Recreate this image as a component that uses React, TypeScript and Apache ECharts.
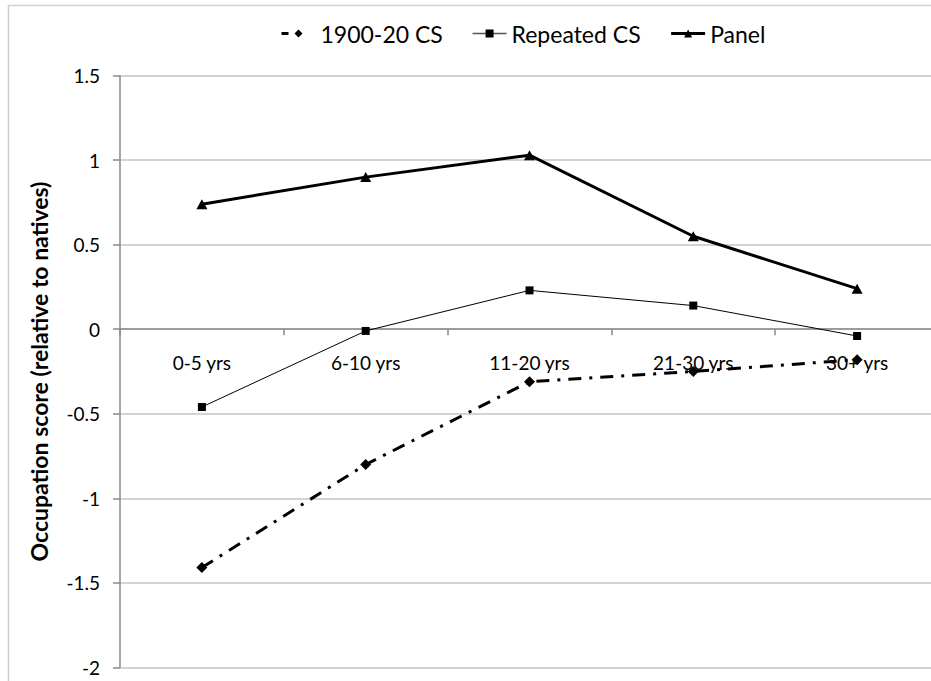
import React, { useEffect, useRef } from "react";
import * as echarts from "echarts";

const categories = ["0-5 yrs", "6-10 yrs", "11-20 yrs", "21-30 yrs", "30+ yrs"];
const cs1900 = [-1.41, -0.8, -0.31, -0.25, -0.18];
const repeatedCS = [-0.46, -0.01, 0.23, 0.14, -0.04];
const panel = [0.74, 0.9, 1.03, 0.55, 0.24];
const seriesNames = ["1900-20 CS", "Repeated CS", "Panel"];
const yTitle = "Occupation score (relative to natives)";
const Y_MIN = -2;
const Y_MAX = 1.5;

const FONT = "Lato, 'Open Sans', sans-serif";

export default function App() {
  const ref = useRef<HTMLDivElement>(null);
  useEffect(() => {
    if (!ref.current) return;
    const chart = echarts.init(ref.current, undefined, { renderer: "svg" });
    const gridTop = 75.7;
    const gridBottom = 13.7;
    const gridH = 681 - gridTop - gridBottom;
    // place the category axis where the value axis crosses 0
    const zeroOffset = -((0 - Y_MIN) / (Y_MAX - Y_MIN)) * gridH;
    chart.setOption({
      animation: false,
      backgroundColor: "#ffffff",
      graphic: [
        {
          type: "rect",
          silent: true,
          z: -10,
          shape: { x: 8.5, y: 5.5, width: 960, height: 720 },
          style: { fill: "none", stroke: "#d0d0d0", lineWidth: 1.5 },
        },
      ],
      legend: {
        left: 275,
        top: 17,
        itemWidth: 34,
        itemHeight: 10,
        itemGap: 29,
        data: [
          { name: seriesNames[0], lineStyle: { type: [7, 40], width: 3 } },
          { name: seriesNames[1], lineStyle: { width: 1.5, color: "#555" } },
          { name: seriesNames[2], lineStyle: { width: 3 } },
        ],
        textStyle: { fontFamily: FONT, fontSize: 23, color: "#000" },
      },
      grid: {
        left: 120,
        right: -8,
        top: gridTop,
        bottom: gridBottom,
        containLabel: false,
        outerBoundsMode: "none",
      },
      xAxis: {
        type: "category",
        data: categories,
        boundaryGap: true,
        position: "bottom",
        offset: zeroOffset,
        axisLine: { onZero: false, lineStyle: { color: "#8a8a8a", width: 1.5 } },
        axisTick: { show: true, length: 6, lineStyle: { color: "#8a8a8a", width: 1.5 } },
        axisLabel: { margin: 24, fontFamily: FONT, fontSize: 19, color: "#000" },
        splitLine: { show: false },
      },
      yAxis: {
        type: "value",
        min: Y_MIN,
        max: Y_MAX,
        interval: 0.5,
        name: yTitle,
        nameLocation: "middle",
        nameGap: 70,
        nameTextStyle: { fontFamily: FONT, fontSize: 23, fontWeight: "bold", color: "#000" },
        axisLine: { show: true, onZero: false, lineStyle: { color: "#8a8a8a", width: 1.5 } },
        axisTick: { show: true, length: 7, lineStyle: { color: "#8a8a8a", width: 1.5 } },
        axisLabel: { margin: 20, fontFamily: FONT, fontSize: 19, color: "#000" },
        splitLine: { show: true, lineStyle: { color: "#c4c4c4", width: 1.5 } },
      },
      series: [
        {
          name: seriesNames[0],
          type: "line",
          data: cs1900,
          symbol: "diamond",
          symbolSize: 11,
          itemStyle: { color: "#000" },
          lineStyle: { color: "#000", width: 3, type: [13, 8, 3, 8], cap: "butt" },
        },
        {
          name: seriesNames[1],
          type: "line",
          data: repeatedCS,
          symbol: "rect",
          symbolSize: 8,
          itemStyle: { color: "#000" },
          lineStyle: { color: "#000", width: 1 },
        },
        {
          name: seriesNames[2],
          type: "line",
          data: panel,
          symbol: "triangle",
          symbolSize: [11, 10],
          itemStyle: { color: "#000" },
          lineStyle: { color: "#000", width: 3 },
        },
      ],
    });
    return () => chart.dispose();
  }, []);
  return (
    <div
      ref={ref}
      style={{ position: "fixed", left: 0, top: 0, width: 931, height: 681, background: "#fff" }}
    />
  );
}
